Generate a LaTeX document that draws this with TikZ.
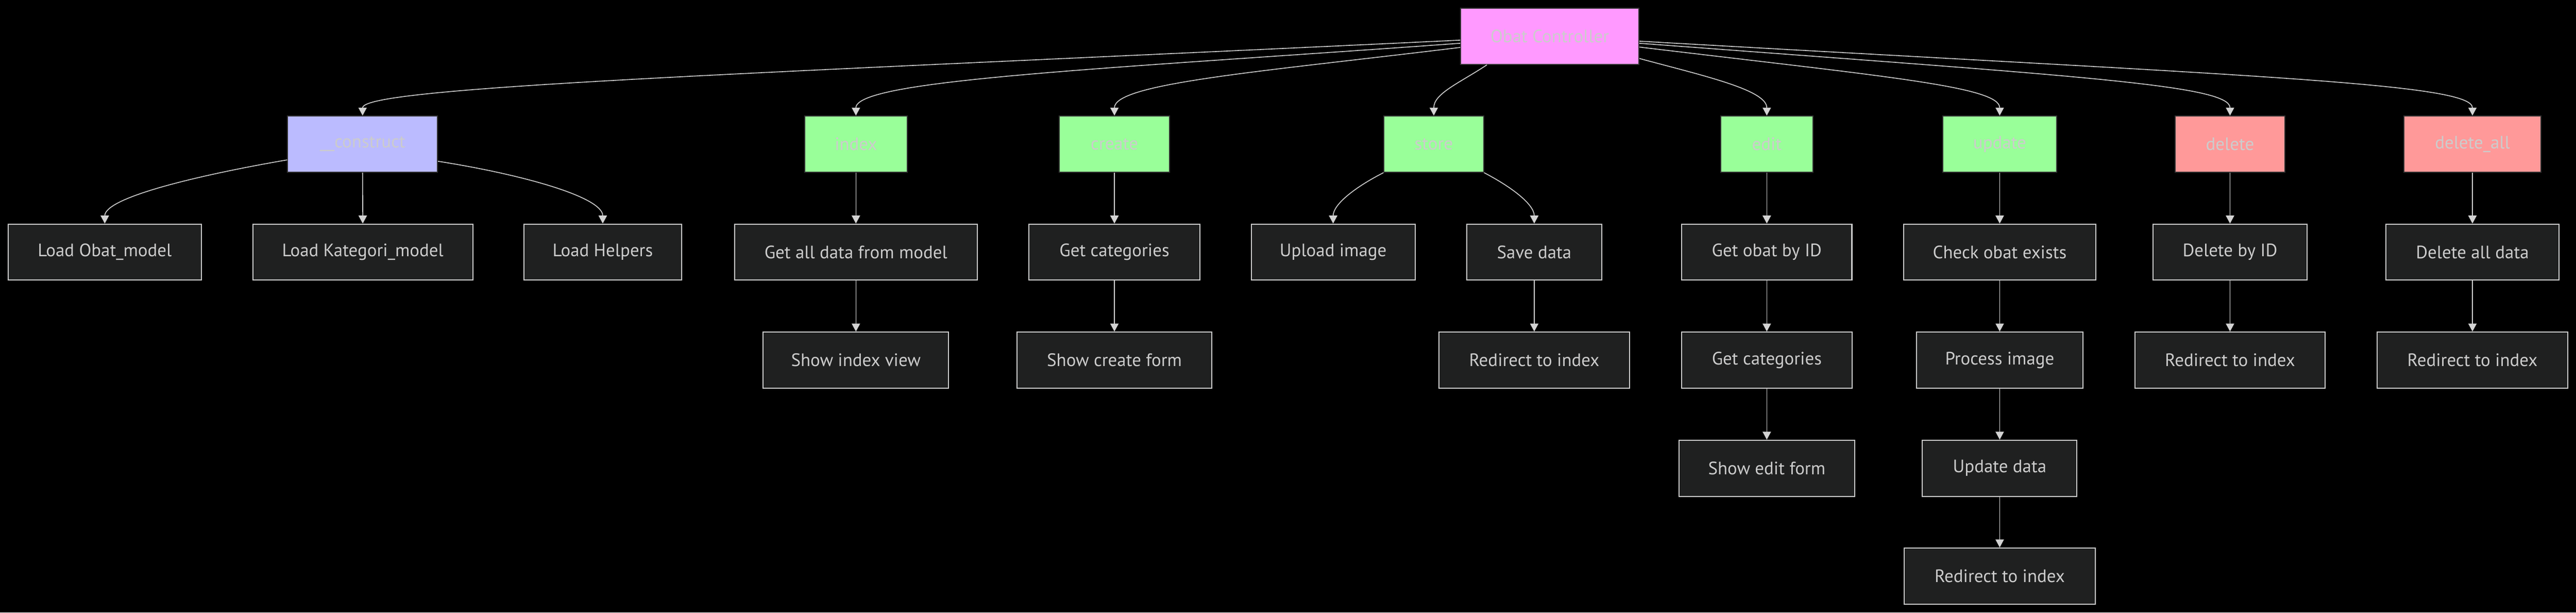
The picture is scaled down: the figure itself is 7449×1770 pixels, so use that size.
\documentclass[tikz,border=0pt]{standalone}
\usepackage{fontspec}
\setmainfont{PT Sans}
\usetikzlibrary{arrows.meta}
\definecolor{rootc}{HTML}{FF99FF}
\definecolor{ctorc}{HTML}{BBBBFF}
\definecolor{actc}{HTML}{99FF99}
\definecolor{delc}{HTML}{FF9999}
\definecolor{boxc}{HTML}{1F2020}
\definecolor{bordc}{HTML}{333333}
\definecolor{boxbord}{HTML}{CCCCCC}
\definecolor{txt}{HTML}{CCCCCC}
\definecolor{edgec}{HTML}{D3D3D3}
\begin{document}
\begin{tikzpicture}[x=0.25pt,y=-0.25pt,
  base/.style={rectangle, inner sep=0pt, minimum height=40.5pt, font=\fontsize{13}{15}\selectfont, text=txt, line width=0.75pt},
  wd/.style={minimum width=#1*0.25pt},
  rootbox/.style={base, fill=rootc, draw=bordc},
  ctorbox/.style={base, fill=ctorc, draw=bordc},
  actbox/.style={base, fill=actc, draw=bordc},
  delbox/.style={base, fill=delc, draw=bordc},
  stepbox/.style={base, fill=boxc, draw=boxbord},
  conn/.style={draw=edgec, line width=0.6pt, -{Triangle[width=6pt,length=5.75pt]}}
]
\fill[black] (0,0) rectangle (7449,1770);
\useasboundingbox (0,0) rectangle (7449,1770);

% level 0
\node[rootbox, wd=515] (root) at (4481.5,105) {Obat Controller};
% level 1
\node[ctorbox, wd=433] (ctor) at (1048.5,416.5) {\_\_construct};
\node[actbox, wd=296] (index) at (2475,416.5) {index};
\node[actbox, wd=319] (create) at (3222.5,416.5) {create};
\node[actbox, wd=288] (store) at (4146,416.5) {store};
\node[actbox, wd=266] (edit) at (5109,416.5) {edit};
\node[actbox, wd=329] (update) at (5782.5,416.5) {update};
\node[delbox, wd=317] (delete) at (6448.5,416.5) {delete};
\node[delbox, wd=397] (deleteall) at (7149.5,416.5) {delete\_all};
% level 2
\node[stepbox, wd=558] (lobat) at (303,728.5) {Load Obat\_model};
\node[stepbox, wd=636] (lkat) at (1049,728.5) {Load Kategori\_model};
\node[stepbox, wd=456] (lhelp) at (1743,728.5) {Load Helpers};
\node[stepbox, wd=702] (getall) at (2475,728.5) {Get all data from model};
\node[stepbox, wd=494] (getcatc) at (3222.5,728.5) {Get categories};
\node[stepbox, wd=474] (upload) at (3855,728.5) {Upload image};
\node[stepbox, wd=389] (save) at (4436.5,728.5) {Save data};
\node[stepbox, wd=492] (getobat) at (5109,728.5) {Get obat by ID};
\node[stepbox, wd=556] (check) at (5782.5,728.5) {Check obat exists};
\node[stepbox, wd=444] (delid) at (6448.5,728.5) {Delete by ID};
\node[stepbox, wd=500] (delall) at (7149.5,728.5) {Delete all data};
% level 3
\node[stepbox, wd=536] (showidx) at (2475,1040.5) {Show index view};
\node[stepbox, wd=562] (showcreate) at (3222.5,1040.5) {Show create form};
\node[stepbox, wd=551] (redstore) at (4436.5,1040.5) {Redirect to index};
\node[stepbox, wd=494] (getcate) at (5109,1040.5) {Get categories};
\node[stepbox, wd=481] (procimg) at (5782.5,1040.5) {Process image};
\node[stepbox, wd=551] (reddel) at (6448.5,1040.5) {Redirect to index};
\node[stepbox, wd=551] (reddelall) at (7149.5,1040.5) {Redirect to index};
% level 4
\node[stepbox, wd=508] (showedit) at (5109,1353) {Show edit form};
\node[stepbox, wd=447] (upddata) at (5782.5,1353) {Update data};
% level 5
\node[stepbox, wd=552] (redupd) at (5782.5,1664.5) {Redirect to index};

% root edges
\draw[conn] ([yshift=-2.75pt]root.west) .. controls (2200,212) and (1048.5,250) .. (ctor.north);
\draw[conn] ([yshift=-5pt]root.west) .. controls (3200,199) and (2475,230) .. (index.north);
\draw[conn] ([yshift=-8pt]root.west) .. controls (3650,207) and (3222.5,240) .. (create.north);
\draw[conn] ([xshift=19.25pt]root.south west) .. controls (4220,240) and (4146,270) .. (store.north);
\draw[conn] ([yshift=-16pt]root.east) .. controls (4930,220) and (5109,260) .. (edit.north);
\draw[conn] ([yshift=-7.75pt]root.east) .. controls (5450,221) and (5782.5,250) .. (update.north);
\draw[conn] ([yshift=-5pt]root.east) .. controls (6000,219.5) and (6448.5,245) .. (delete.north);
\draw[conn] ([yshift=-3.5pt]root.east) .. controls (6500,219) and (7149.5,240) .. (deleteall.north);

% construct
\draw[conn] ([yshift=-11.375pt]ctor.west) .. controls (580,505) and (303,570) .. (lobat.north);
\draw[conn] (ctor.south) -- (lkat.north);
\draw[conn] ([yshift=-12.375pt]ctor.east) .. controls (1515,505) and (1743,570) .. (lhelp.north);

% index / create
\draw[conn] (index.south) -- (getall.north);
\draw[conn] (getall.south) -- (showidx.north);
\draw[conn] (create.south) -- (getcatc.north);
\draw[conn] (getcatc.south) -- (showcreate.north);

% store
\draw[conn] (store.south west) .. controls (3920,540) and (3855,590) .. (upload.north);
\draw[conn] (store.south east) .. controls (4370,540) and (4436.5,590) .. (save.north);
\draw[conn] (save.south) -- (redstore.north);

% edit
\draw[conn] (edit.south) -- (getobat.north);
\draw[conn] (getobat.south) -- (getcate.north);
\draw[conn] (getcate.south) -- (showedit.north);

% update
\draw[conn] (update.south) -- (check.north);
\draw[conn] (check.south) -- (procimg.north);
\draw[conn] (procimg.south) -- (upddata.north);
\draw[conn] (upddata.south) -- (redupd.north);

% delete
\draw[conn] (delete.south) -- (delid.north);
\draw[conn] (delid.south) -- (reddel.north);
\draw[conn] (deleteall.south) -- (delall.north);
\draw[conn] (delall.south) -- (reddelall.north);
\end{tikzpicture}
\end{document}
